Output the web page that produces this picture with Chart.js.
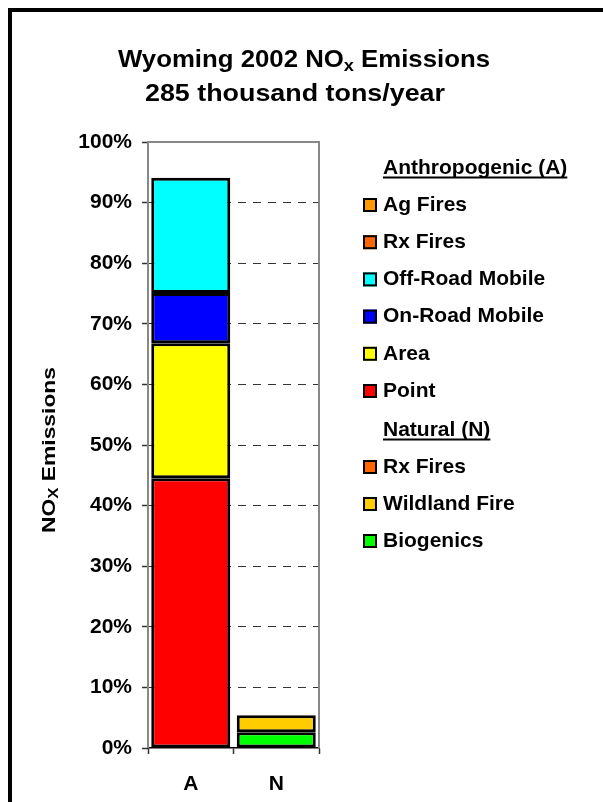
<!DOCTYPE html>
<html>
<head>
<meta charset="utf-8">
<script src="https://cdn.jsdelivr.net/npm/chart.js@4.4.0/dist/chart.umd.min.js"></script>
<style>
  html, body { margin: 0; padding: 0; background: #fff; overflow: hidden; }
  #wrap { position: relative; width: 603px; height: 802px; }
</style>
</head>
<body>
<div id="wrap"><canvas id="chart" width="603" height="802"></canvas></div>
<script>
// categories on the x axis
const categories = ['A', 'N'];

// Anthropogenic (A) sources, % of total NOx
const point   = [44.5, null];
const area    = [22.3, null];
const onRoad  = [8.3, null];
const offRoad = [19.0, null];
const rxFiresA = [0, null];
const agFires = [0, null];

// Natural (N) sources, % of total NOx
const biogenics = [null, 2.6];
const wildland  = [null, 2.8];
const rxFiresN  = [null, 0];

// legend groups (top to bottom)
const anthroLabels = ['Ag Fires', 'Rx Fires', 'Off-Road Mobile', 'On-Road Mobile', 'Area', 'Point'];
const naturalLabels = ['Rx Fires', 'Wildland Fire', 'Biogenics'];

const FONT = 'Arial, "Liberation Sans", sans-serif';

// fill colours
const col = {
    agFires: '#FF9900',
    rxFires: '#FF6600',
    offRoad: '#00FFFF',
    onRoad: '#0000FF',
    area: '#FFFF00',
    point: '#FF0000',
    wildland: '#FFCC00',
    biogenics: '#00FF00'
};

function ds(label, data, color) {
    return {
        label: label,
        data: data,
        backgroundColor: color,
        borderColor: '#000',
        borderWidth: 3,
        borderSkipped: false,
        inflateAmount: 0,
        stack: 'all',
        barPercentage: 0.924,
        categoryPercentage: 1
    };
}

const datasets = [
    ds('Point', point, col.point),
    ds('Area', area, col.area),
    ds('On-Road Mobile', onRoad, col.onRoad),
    ds('Off-Road Mobile', offRoad, col.offRoad),
    ds('Rx Fires', rxFiresA, col.rxFires),
    ds('Ag Fires', agFires, col.agFires),
    ds('Biogenics', biogenics, col.biogenics),
    ds('Wildland Fire', wildland, col.wildland),
    ds('Rx Fires', rxFiresN, col.rxFires)
];

// text made of parts, some as subscript; stretched to a target width
function drawRich(ctx, parts, cx, baseY, size, targetW, rotate) {
    const subSize = Math.round(size * 0.72);
    let total = 0;
    parts.forEach(p => {
        ctx.font = 'bold ' + (p.sub ? subSize : size) + 'px ' + FONT;
        p.w = ctx.measureText(p.t).width;
        total += p.w;
    });
    const sx = targetW ? targetW / total : 1;
    ctx.save();
    ctx.translate(cx, baseY);
    if (rotate) ctx.rotate(-Math.PI / 2);
    ctx.scale(sx, 1);
    ctx.fillStyle = '#000';
    ctx.textBaseline = 'alphabetic';
    ctx.textAlign = 'left';
    let x = -total / 2;
    parts.forEach(p => {
        ctx.font = 'bold ' + (p.sub ? subSize : size) + 'px ' + FONT;
        ctx.fillText(p.t, x, p.sub ? Math.round(size * 0.18) : 0);
        x += p.w;
    });
    ctx.restore();
}

const decorPlugin = {
    id: 'decor',
    afterDraw(chart) {
        const ctx = chart.ctx;
        const a = chart.chartArea;

        // plot area frame
        ctx.save();
        ctx.strokeStyle = '#888';
        ctx.lineWidth = 2;
        ctx.beginPath();
        ctx.moveTo(a.left, a.bottom);
        ctx.lineTo(a.left, a.top);
        ctx.lineTo(a.right, a.top);
        ctx.lineTo(a.right, a.bottom);
        ctx.stroke();
        ctx.restore();

        // outer black frame (runs off the right and bottom edges)
        ctx.save();
        ctx.strokeStyle = '#000';
        ctx.lineWidth = 4;
        ctx.strokeRect(10, 10, 640, 840);
        ctx.restore();

        // title
        drawRich(ctx, [{ t: 'Wyoming 2002 NO' }, { t: 'x', sub: true }, { t: ' Emissions' }], 304, 67, 24, 372, false);
        drawRich(ctx, [{ t: '285 thousand tons/year' }], 295, 101, 24, 300, false);

        // y axis title
        drawRich(ctx, [{ t: 'NO' }, { t: 'X', sub: true }, { t: ' Emissions' }], 55, 450, 19, 166, true);

        // legend
        const lx = 363, tx = 383, box = 14;
        const rows = [];
        rows.push({ header: 'Anthropogenic (A)', y: 168 });
        const anthroColors = [col.agFires, col.rxFires, col.offRoad, col.onRoad, col.area, col.point];
        anthroLabels.forEach((l, i) => rows.push({ label: l, color: anthroColors[i], y: 205 + i * 37.2 }));
        rows.push({ header: 'Natural (N)', y: 430 });
        const natColors = [col.rxFires, col.wildland, col.biogenics];
        naturalLabels.forEach((l, i) => rows.push({ label: l, color: natColors[i], y: 467 + i * 37 }));

        ctx.save();
        ctx.font = 'bold 21px ' + FONT;
        ctx.textBaseline = 'middle';
        ctx.textAlign = 'left';
        rows.forEach(r => {
            ctx.fillStyle = '#000';
            if (r.header) {
                ctx.fillText(r.header, tx, r.y);
                const w = ctx.measureText(r.header).width;
                ctx.fillRect(tx, r.y + 8.5, w, 2);
            } else {
                ctx.fillText(r.label, tx, r.y);
                ctx.fillStyle = r.color;
                ctx.fillRect(lx, r.y - box / 2, box, box);
                ctx.strokeStyle = '#000';
                ctx.lineWidth = 2;
                ctx.strokeRect(lx + 1, r.y - box / 2 + 1, box - 2, box - 2);
            }
        });
        ctx.restore();
    }
};

new Chart(document.getElementById('chart'), {
    type: 'bar',
    data: { labels: categories, datasets: datasets },
    options: {
        responsive: false,
        animation: false,
        layout: { padding: { top: 142, right: 284, bottom: 0, left: 0 } },
        plugins: {
            legend: { display: false },
            title: { display: false },
            tooltip: { enabled: false }
        },
        scales: {
            x: {
                stacked: true,
                grid: { drawOnChartArea: false, tickLength: 6, tickColor: '#333', tickWidth: 1.5 },
                border: { display: true, color: '#000', width: 1.5 },
                ticks: { color: '#000', font: { family: FONT, size: 21, weight: 'bold' }, padding: 18 },
                afterFit: s => { s.height = 54; }
            },
            y: {
                stacked: true,
                min: 0,
                max: 100,
                ticks: {
                    stepSize: 10,
                    color: '#000',
                    padding: 10,
                    font: { family: FONT, size: 21, weight: 'bold' },
                    callback: v => v + '%'
                },
                grid: {
                    color: c => (c.tick && (c.tick.value === 0 || c.tick.value === 100)) ? 'rgba(0,0,0,0)' : '#333',
                    lineWidth: 1,
                    tickLength: 6,
                    tickColor: '#333',
                    tickWidth: 1.5,
                    tickBorderDash: []
                },
                border: { display: false, dash: [8, 7] },
                afterFit: s => { s.width = 148; }
            }
        }
    },
    plugins: [decorPlugin]
});
</script>
</body>
</html>
